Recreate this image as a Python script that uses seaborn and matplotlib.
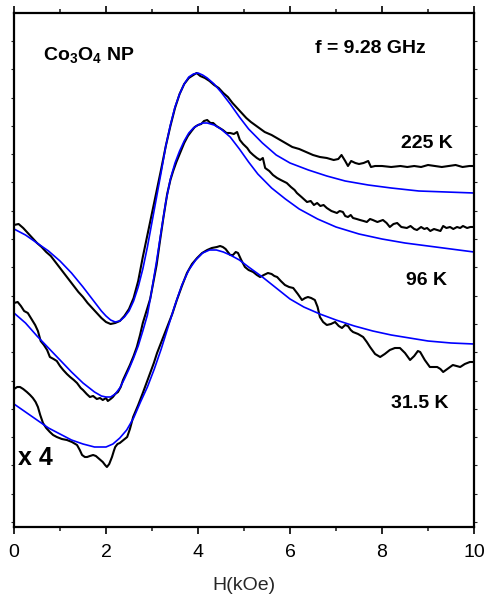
import numpy as np
import pandas as pd
import matplotlib
matplotlib.use("Agg")
import matplotlib.pyplot as plt
import seaborn as sns

# ---------------- data (H in kOe, signal in arbitrary units) ----------------
h_225_exp = [0.0, 0.1, 0.2, 0.3, 0.4, 0.5, 0.6, 0.7, 0.8, 0.9, 1.0, 1.1, 1.2, 1.3, 1.4, 1.5, 1.6,
             1.7, 1.8, 1.9, 2.0, 2.1, 2.2, 2.3, 2.4, 2.5, 2.6, 2.7, 2.8, 2.9, 3.0, 3.1, 3.2, 3.3,
             3.4, 3.5, 3.6, 3.7, 3.8, 3.9, 3.97, 4.05, 4.15, 4.25, 4.35, 4.45, 4.55, 4.65, 4.75,
             4.85, 4.95, 5.05, 5.15, 5.3, 5.45, 5.6, 5.75, 5.9, 6.05, 6.2, 6.35, 6.5, 6.65, 6.8,
             6.95, 7.05, 7.12, 7.2, 7.26, 7.33, 7.42, 7.5, 7.6, 7.7, 7.76, 7.85, 8.0, 8.2, 8.4,
             8.55, 8.7, 8.85, 9.0, 9.15, 9.3, 9.45, 9.6, 9.75, 9.9, 10.0]
s_225_exp = [302, 303, 299, 294, 289, 284, 280, 275, 271, 265, 259, 253, 247, 241, 235, 230, 224,
             219, 214, 209, 205, 203, 204, 206, 211, 218, 229, 246, 270, 292, 314, 336, 358, 381,
             401, 419, 433, 443, 449, 452, 454, 451, 449, 446, 442, 439, 434, 430, 424,
             419, 414, 409, 405, 400, 395, 392, 388, 384, 380, 378, 375, 372, 370, 369,
             367, 368, 372, 366, 361, 366, 364, 363, 364, 366, 360, 361, 361, 360, 361,
             360, 361, 360, 362, 361, 360, 361, 362, 360, 361, 361]

h_225_fit = [0.0, 0.25, 0.5, 0.75, 1.0, 1.25, 1.5, 1.75, 1.9, 2.0, 2.1, 2.2, 2.3, 2.4, 2.5, 2.6,
             2.7, 2.8, 2.9, 3.0, 3.1, 3.2, 3.3, 3.4, 3.5, 3.6, 3.7, 3.8, 3.9, 4.0, 4.1, 4.2, 4.35,
             4.5, 4.7, 4.9, 5.1, 5.4, 5.7, 6.0, 6.4, 6.8, 7.2, 7.7, 8.2, 8.8, 9.4, 10.0]
s_225_fit = [298, 292, 284, 276, 266, 254, 240, 225, 216, 211, 207, 205, 206, 210, 216, 226,
             240, 258, 280, 305, 330, 355, 381, 402, 420, 433, 443, 450, 453, 454, 452, 449, 443,
             435, 423, 410, 398, 384, 372, 364, 357, 351, 346, 342, 339, 336, 335, 334]

h_96_exp = [0.0, 0.08, 0.15, 0.22, 0.3, 0.38, 0.46, 0.52, 0.58, 0.65, 0.72, 0.78, 0.86, 0.93, 1.0,
            1.07, 1.15, 1.22, 1.3, 1.37, 1.45, 1.5, 1.58, 1.65, 1.72, 1.8, 1.87, 1.93, 2.0, 2.04,
            2.1, 2.15, 2.2, 2.26, 2.32, 2.37, 2.45, 2.52, 2.6, 2.67, 2.74, 2.8, 2.88, 2.96, 3.03,
            3.1, 3.17, 3.25, 3.33, 3.4, 3.46, 3.53, 3.61, 3.7, 3.78, 3.86, 3.93, 4.0, 4.07, 4.13,
            4.2, 4.27, 4.33, 4.4, 4.47, 4.54, 4.62, 4.7, 4.78, 4.85, 4.91, 4.98, 5.07, 5.13, 5.2,
            5.28, 5.35, 5.41, 5.46, 5.55, 5.63, 5.72, 5.8, 5.93, 6.02, 6.1, 6.15, 6.25, 6.37,
            6.45, 6.52, 6.59, 6.66, 6.73, 6.8, 6.9, 7.02, 7.08, 7.15, 7.2, 7.26, 7.32, 7.37,
            7.45, 7.52, 7.6, 7.67, 7.74, 7.8, 7.9, 8.02, 8.1, 8.17, 8.25, 8.33, 8.42, 8.54, 8.62,
            8.7, 8.76, 8.85, 8.92, 8.98, 9.05, 9.13, 9.2, 9.27, 9.33, 9.4, 9.48, 9.55, 9.63, 9.7,
            9.76, 9.85, 9.92, 10.0]
s_96_exp = [224, 225, 221, 216, 214, 208, 202, 196, 186, 182, 177, 170, 168, 166, 161,
            157, 153, 150, 147, 144, 139, 137, 133, 130, 131, 128, 129, 127, 129, 126,
            128, 130, 133, 135, 140, 147, 155, 162, 171, 180, 192, 204, 216, 228, 245,
            262, 285, 310, 333, 347, 356, 365, 374, 384, 391, 396, 400, 402, 403, 406,
            407, 404, 404, 401, 399, 397, 394, 394, 393, 395, 387, 383, 379, 375, 372,
            369, 367, 369, 359, 356, 352, 349, 347, 344, 340, 337, 334, 330, 325,
            326, 322, 324, 321, 322, 319, 316, 314, 316, 315, 311, 310, 312, 309,
            308, 307, 306, 305, 308, 307, 305, 307, 304, 300, 303, 304, 300, 299, 301,
            298, 297, 300, 298, 299, 296, 298, 297, 296, 301, 299, 300, 298, 300, 299,
            301, 299, 300, 300]

h_96_fit = [0.0, 0.25, 0.5, 0.75, 1.0, 1.25, 1.5, 1.75, 1.9, 2.0, 2.1, 2.2, 2.3, 2.4, 2.5, 2.6,
            2.7, 2.8, 2.9, 3.0, 3.1, 3.2, 3.3, 3.4, 3.5, 3.6, 3.7, 3.8, 3.9, 4.0, 4.1, 4.2, 4.35,
            4.5, 4.7, 4.9, 5.1, 5.3, 5.6, 5.9, 6.2, 6.6, 7.0, 7.5, 8.0, 8.5, 9.0, 9.5, 10.0]
s_96_fit = [214, 204, 191, 179, 167, 155, 144, 135, 131, 130, 130, 133, 139, 148, 158, 169,
            181, 196, 212, 238, 266, 296, 325, 348, 364, 376, 386, 394, 399, 402, 404, 404, 402,
            398, 390, 378, 365, 353, 339, 328, 318, 308, 300, 293, 288, 284, 281, 278, 275]

h_31_exp = [0.0, 0.07, 0.13, 0.2, 0.28, 0.35, 0.41, 0.47, 0.52, 0.57, 0.63, 0.7, 0.78, 0.85,
            0.93, 1.04, 1.15, 1.26, 1.37, 1.43, 1.48, 1.54, 1.59, 1.65, 1.72, 1.78, 1.83, 1.88,
            1.93, 1.98, 2.02, 2.07, 2.13, 2.17, 2.2, 2.25, 2.3, 2.38, 2.46, 2.52, 2.59, 2.7, 2.8,
            2.88, 2.96, 3.04, 3.11, 3.22, 3.33, 3.44, 3.54, 3.65, 3.76, 3.87, 3.98, 4.09, 4.2,
            4.3, 4.41, 4.48, 4.54, 4.6, 4.65, 4.7, 4.76, 4.82, 4.87, 4.94, 5.02, 5.1, 5.2, 5.28,
            5.35, 5.43, 5.52, 5.6, 5.66, 5.72, 5.8, 5.89, 5.98, 6.07, 6.17, 6.26, 6.33, 6.39,
            6.46, 6.54, 6.6, 6.65, 6.72, 6.8, 6.89, 6.98, 7.06, 7.13, 7.2, 7.26, 7.32, 7.37,
            7.48, 7.59, 7.67, 7.74, 7.85, 7.96, 8.06, 8.17, 8.28, 8.39, 8.5, 8.61, 8.7, 8.78,
            8.83, 8.93, 9.04, 9.12, 9.2, 9.27, 9.33, 9.42, 9.54, 9.62, 9.7, 9.8, 9.91, 10.0]
s_31_exp = [138, 140, 140, 138, 135, 132, 129, 125, 120, 112, 104, 99, 95, 92,
            90, 88, 87, 85, 82, 77, 72, 70, 70, 71, 72, 71, 69, 67,
            65, 62, 60, 63, 70, 76, 80, 83, 84, 87, 90, 98, 110, 122, 134,
            144, 154, 164, 174, 187, 200, 213, 227, 241, 254, 263, 269, 274, 277,
            279, 280, 281, 280, 278, 275, 272, 272, 275, 274, 267, 260, 257, 255, 252,
            250, 252, 254, 253, 251, 250, 246, 242, 240, 239, 233, 227, 229, 230,
            229, 227, 220, 210, 205, 202, 203, 205, 201, 199, 202, 201, 197, 195,
            193, 190, 185, 180, 173, 170, 173, 177, 179, 179, 174, 167, 171, 176,
            175, 167, 160, 160, 160, 158, 155, 158, 162, 161, 160, 163, 165, 165]

h_31_fit = [0.0, 0.25, 0.5, 0.75, 1.0, 1.25, 1.5, 1.75, 2.0, 2.15, 2.3, 2.45, 2.6, 2.75, 2.9,
            3.05, 3.2, 3.35, 3.5, 3.65, 3.8, 3.95, 4.1, 4.25, 4.4, 4.55, 4.7, 4.9, 5.1, 5.4, 5.7,
            6.0, 6.3, 6.65, 7.0, 7.4, 7.8, 8.2, 8.6, 9.0, 9.5, 10.0]
s_31_fit = [123, 115, 107, 99, 93, 87, 83, 80, 80, 83, 89, 97, 109, 125, 140,
            158, 178, 200, 222, 242, 257, 267, 274, 277, 277, 275, 272, 267, 260, 250, 239,
            228, 220, 213, 207, 201, 196, 192, 189, 186, 184, 183]

x_ticks = [0, 2, 4, 6, 8, 10]
x_tick_labels = ["0", "2", "4", "6", "8", "10"]

# ---------------- style ----------------
sns.set_theme(style="white")
plt.rcParams["font.family"] = ["Liberation Sans", "DejaVu Sans"]
plt.rcParams["mathtext.fontset"] = "custom"
plt.rcParams["mathtext.rm"] = "Liberation Sans:bold"
plt.rcParams["mathtext.it"] = "Liberation Sans:bold"
plt.rcParams["mathtext.bf"] = "Liberation Sans:bold"

fig = plt.figure(figsize=(4.86, 6.04), dpi=100)
ax = fig.add_axes([14 / 486, 1 - 527 / 604, 460 / 486, 514 / 604])

series = [
    (h_225_exp, s_225_exp, "black", 1.5),
    (h_96_exp, s_96_exp, "black", 1.5),
    (h_31_exp, s_31_exp, "black", 1.5),
    (h_225_fit, s_225_fit, "#0000ff", 1.2),
    (h_96_fit, s_96_fit, "#0000ff", 1.2),
    (h_31_fit, s_31_fit, "#0000ff", 1.2),
]
for hx, sy, col, lw in series:
    df = pd.DataFrame({"H": hx, "S": sy})
    sns.lineplot(data=df, x="H", y="S", ax=ax, color=col, linewidth=lw,
                 sort=False, estimator=None)
for line in ax.get_lines():
    line.set_solid_joinstyle("round")

ax.set_xlim(0, 10)
ax.set_ylim(0, 514)
ax.set_xticks(x_ticks)
ax.set_xticklabels(x_tick_labels)
ax.set_xticks([1, 3, 5, 7, 9], minor=True)
ax.set_yticks(np.arange(5, 514, 28.3))
ax.set_yticklabels([])
ax.set_xlabel("H(kOe)", fontsize=14, labelpad=12)
ax.set_ylabel("")

for s in ax.spines.values():
    s.set_linewidth(1.6)
    s.set_color("black")

ax.tick_params(axis="x", which="major", direction="out", length=5, width=1.2,
               top=True, bottom=True, labelsize=14, pad=7, colors="black")
ax.tick_params(axis="x", which="minor", direction="out", length=3, width=1.2,
               top=True, bottom=True)
ax.tick_params(axis="y", which="major", direction="out", length=2.5, width=0.8,
               left=True, right=True, labelleft=False)

bold = dict(fontsize=14, fontweight="bold", color="black", ha="left", va="baseline")
ax.text(0.63, 467, r"Co$_3$O$_4$ NP", **bold)
ax.text(6.54, 474, "f = 9.28 GHz", **bold)
ax.text(8.41, 379, "225 K", **bold)
ax.text(8.52, 242, "96 K", **bold)
ax.text(8.20, 119, "31.5 K", **bold)
ax.text(0.09, 62, "x 4", fontsize=18, fontweight="bold", color="black",
        ha="left", va="baseline")

fig.savefig("out.png", dpi=100)
